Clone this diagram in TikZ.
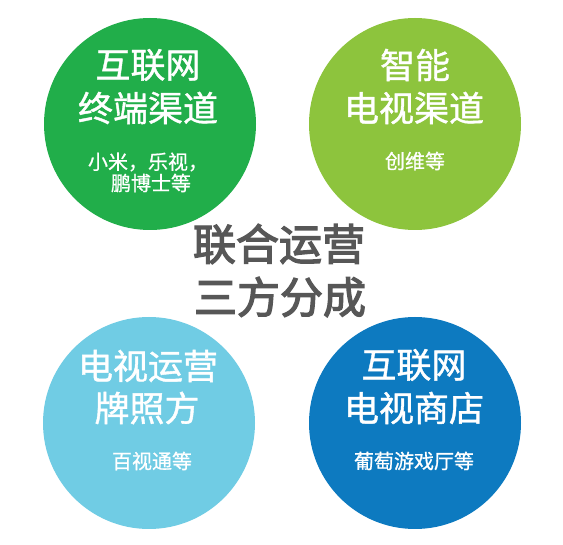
\documentclass[tikz,border=0pt]{standalone}
\usepackage{fontspec}
\setmainfont{Noto Sans CJK SC}
\newfontfamily\ttlfont{Noto Sans CJK SC}[FakeBold=1.2]
\newfontfamily\subfont{Noto Sans CJK SC}[FakeBold=0.8]
\newfontfamily\midfont{Noto Sans CJK SC}[FakeBold=3]
\definecolor{cA}{HTML}{21AE4A}
\definecolor{cB}{HTML}{8DC43D}
\definecolor{cC}{HTML}{70CCE4}
\definecolor{cD}{HTML}{0D7AC0}
\definecolor{cgray}{HTML}{575757}
\begin{document}
\begin{tikzpicture}[x=1pt,y=-1pt,
  bubble/.style={circle, minimum size=212pt, inner sep=0pt, draw=none},
  ttl/.style={text=white, font=\ttlfont\fontsize{35}{40}\selectfont, inner sep=0pt},
  sub/.style={text=white, font=\subfont\fontsize{20}{24}\selectfont, inner sep=0pt},
  mid/.style={text=cgray, font=\midfont\fontsize{43}{48}\selectfont, inner sep=0pt}]
\path[fill=white] (0,0) rectangle (563,545);
\node[bubble, fill=cA] (c1) at (150,124) {};
\node[bubble, fill=cB] (c2) at (415,124) {};
\node[bubble, fill=cC] (c3) at (149,423) {};
\node[bubble, fill=cD] (c4) at (415,423) {};
% top-left
\node[ttl] (t1a) at (148,65) {互联网};
\node[ttl] (t1b) at (148,108) {终端渠道};
\node[sub] (s1a) at (148,162) {小米，乐视，};
\node[sub] (s1b) at (151,183) {鹏博士等};
% top-right
\node[ttl] (t2a) at (415,65) {智能};
\node[ttl] (t2b) at (414,108) {电视渠道};
\node[sub] (s2a) at (415,161) {创维等};
% bottom-left
\node[ttl] (t3a) at (148,366) {电视运营};
\node[ttl] (t3b) at (147,408) {牌照方};
\node[sub] (s3a) at (152,461) {百视通等};
% bottom-right
\node[ttl] (t4a) at (414,365) {互联网};
\node[ttl] (t4b) at (414,408) {电视商店};
\node[sub] (s4a) at (414,461) {葡萄游戏厅等};
% centre
\node[mid] (m1) at (279,244) {联合运营};
\node[mid] (m2) at (280,297) {三方分成};
\end{tikzpicture}
\end{document}
